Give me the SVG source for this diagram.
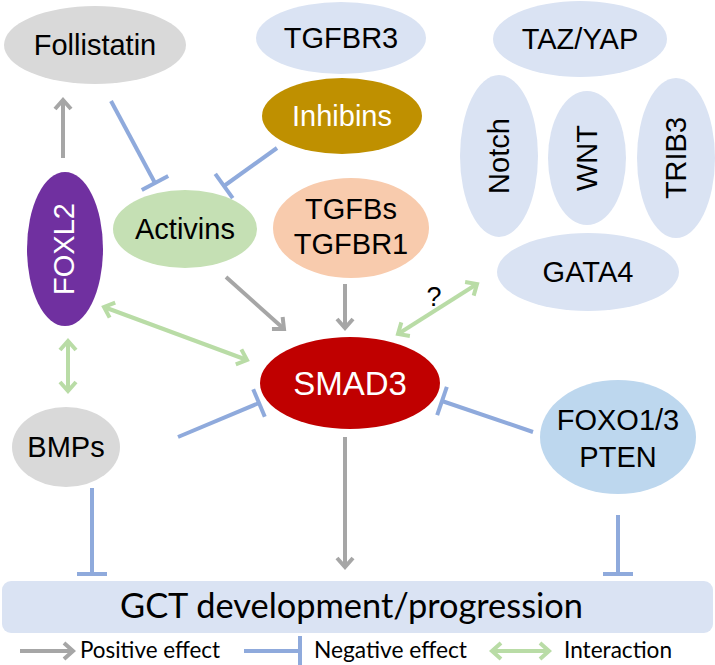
<svg xmlns="http://www.w3.org/2000/svg" width="715" height="665" viewBox="0 0 715 665">
<style>
.t{font-family:"Liberation Sans",Arial,sans-serif;font-size:29px;fill:#000;text-anchor:middle}
.w{fill:#fff}
.big{font-size:33px}
.q{font-size:27px}
.c{font-family:Lato,"Open Sans",sans-serif;fill:#000}
.pos{fill:none;stroke:#a6a6a6;stroke-width:4}
.neg{fill:none;stroke:#8faadc;stroke-width:4}
.int{fill:none;stroke:#b9dca6;stroke-width:4}
</style>
<defs>
<marker id="ag" markerUnits="userSpaceOnUse" markerWidth="20" markerHeight="20" viewBox="-12 -10 20 20" refX="0" refY="0" orient="auto" overflow="visible"><path d="M-9,-8 L0,0 L-9,8" fill="none" stroke="#a6a6a6" stroke-width="4"/></marker>
<marker id="ai" markerUnits="userSpaceOnUse" markerWidth="20" markerHeight="20" viewBox="-12 -10 20 20" refX="0" refY="0" orient="auto-start-reverse" overflow="visible"><path d="M-9,-8 L0,0 L-9,8" fill="none" stroke="#b9dca6" stroke-width="4"/></marker>
<marker id="bar" markerUnits="userSpaceOnUse" markerWidth="6" markerHeight="34" viewBox="-3 -17 6 34" refX="0" refY="0" orient="auto" overflow="visible"><path d="M0,-15 L0,15" fill="none" stroke="#8faadc" stroke-width="4"/></marker>
</defs>

<g id="gct"><rect x="2" y="581" width="711" height="52" rx="9" fill="#dae3f3"/><text class="c" x="120" y="618" font-size="34" textLength="463" lengthAdjust="spacingAndGlyphs">GCT development/progression</text></g>

<g id="follistatin"><ellipse cx="95" cy="45" rx="91" ry="39" fill="#d9d9d9"/><text class="t" x="95" y="55">Follistatin</text></g>
<g id="tgfbr3"><ellipse cx="341" cy="38" rx="85" ry="36" fill="#dae3f3"/><text class="t" x="341" y="48">TGFBR3</text></g>
<g id="tazyap"><ellipse cx="580" cy="39" rx="87" ry="38" fill="#dae3f3"/><text class="t" x="580" y="49">TAZ/YAP</text></g>
<g id="inhibins"><ellipse cx="342" cy="116" rx="80" ry="38" fill="#bf9000"/><text class="t w" x="342" y="126">Inhibins</text></g>
<g id="notch"><ellipse cx="499" cy="156" rx="39" ry="81" fill="#dae3f3"/><text class="t" transform="translate(509,156) rotate(-90)">Notch</text></g>
<g id="wnt"><ellipse cx="587" cy="158" rx="39" ry="67" fill="#dae3f3"/><text class="t" transform="translate(597,158) rotate(-90)">WNT</text></g>
<g id="trib3"><ellipse cx="676" cy="158" rx="39" ry="80" fill="#dae3f3"/><text class="t" transform="translate(686,158) rotate(-90)">TRIB3</text></g>
<g id="foxl2"><ellipse cx="65" cy="249" rx="38" ry="77" fill="#7030a0"/><text class="t w" transform="translate(74,249) rotate(-90)">FOXL2</text></g>
<g id="activins"><ellipse cx="185" cy="229" rx="72" ry="39" fill="#c5e0b4"/><text class="t" x="185" y="239">Activins</text></g>
<g id="tgfbs"><ellipse cx="351" cy="228" rx="78" ry="50" fill="#f8cbad"/><text class="t" x="351" y="219">TGFBs</text><text class="t" x="351" y="254">TGFBR1</text></g>
<g id="gata4"><ellipse cx="588" cy="272" rx="91" ry="39" fill="#dae3f3"/><text class="t" x="588" y="282">GATA4</text></g>
<g id="smad3"><ellipse cx="350" cy="383" rx="90" ry="46" fill="#c00000"/><text class="t w big" x="350" y="395">SMAD3</text></g>
<g id="bmps"><ellipse cx="66" cy="447" rx="54" ry="40" fill="#d9d9d9"/><text class="t" x="66" y="457">BMPs</text></g>
<g id="foxo"><ellipse cx="618" cy="437" rx="78" ry="57" fill="#bdd7ee"/><text class="t" x="618" y="430">FOXO1/3</text><text class="t" x="618" y="467">PTEN</text></g>

<g id="connectors">
<path class="pos" d="M63,158 L63,100" marker-end="url(#ag)"/>
<path class="neg" d="M111,101 L155,183" marker-end="url(#bar)"/>
<path class="neg" d="M277,148 L224,186" marker-end="url(#bar)"/>
<path class="pos" d="M226,277 L284,329" marker-end="url(#ag)"/>
<path class="pos" d="M345,284 L345,328" marker-end="url(#ag)"/>
<path class="int" d="M104,307 L247,360" marker-start="url(#ai)" marker-end="url(#ai)"/>
<path class="int" d="M68,341 L68,391" marker-start="url(#ai)" marker-end="url(#ai)"/>
<path class="neg" d="M178,437 L259,403" marker-end="url(#bar)"/>
<path class="int" d="M398,334 L477,284" marker-start="url(#ai)" marker-end="url(#ai)"/>
<text class="t q" x="434" y="306">?</text>
<path class="neg" d="M533,432 L442,401" marker-end="url(#bar)"/>
<path class="pos" d="M345,437 L345,567" marker-end="url(#ag)"/>
<path class="neg" d="M92,488 L92,574" marker-end="url(#bar)"/>
<path class="neg" d="M618,515 L618,574" marker-end="url(#bar)"/>
</g>

<g id="legend">
<path class="pos" d="M20,651 L73,651" marker-end="url(#ag)"/>
<text class="c" x="80" y="658" font-size="23" textLength="140" lengthAdjust="spacingAndGlyphs">Positive effect</text>
<path class="neg" d="M244,651 L300,651" marker-end="url(#bar)"/>
<text class="c" x="314" y="658" font-size="23" textLength="153" lengthAdjust="spacingAndGlyphs">Negative effect</text>
<path class="int" d="M492,651 L549,651" marker-start="url(#ai)" marker-end="url(#ai)"/>
<text class="c" x="564" y="658" font-size="23" textLength="108" lengthAdjust="spacingAndGlyphs">Interaction</text>
</g>
</svg>
